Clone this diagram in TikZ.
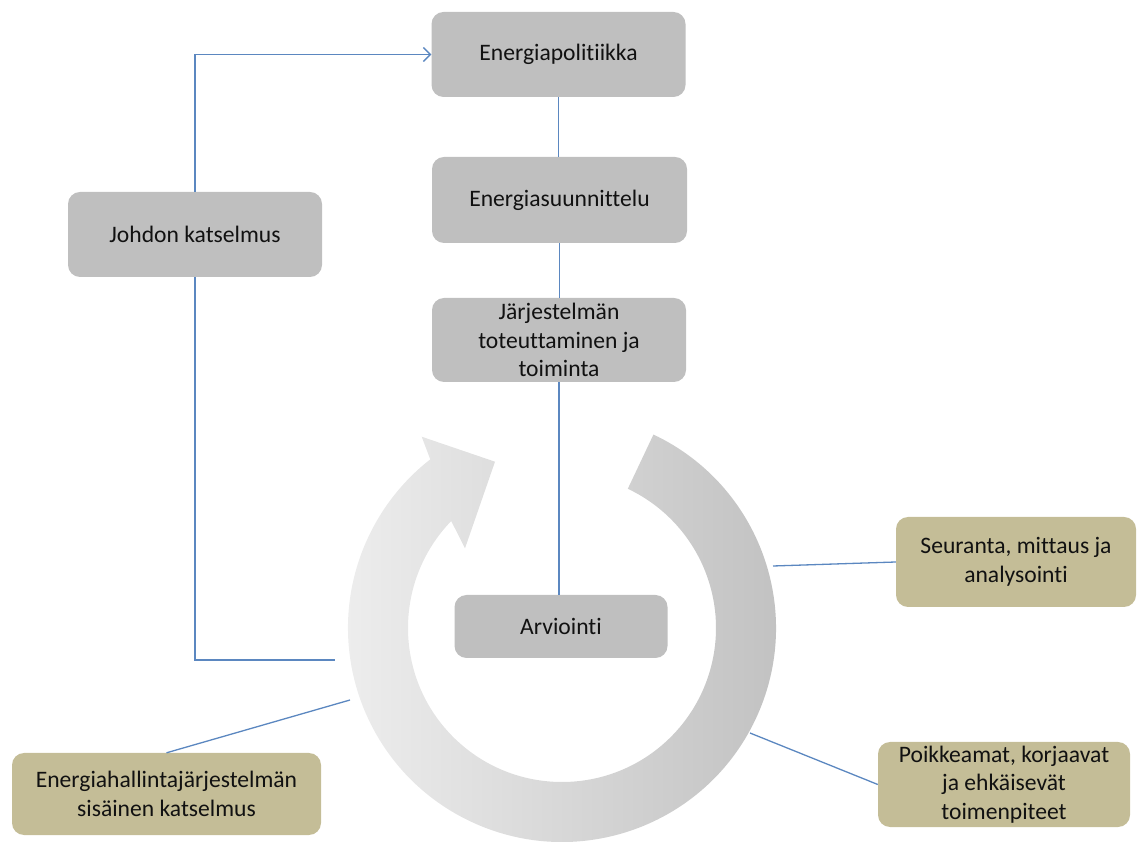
\documentclass[tikz,border=0pt]{standalone}
\usepackage{fontspec}
\setmainfont[Ligatures=NoCommon]{Carlito}
\usepackage{xcolor}
\usepackage{tikz}
\usetikzlibrary{arrows.meta}
\usetikzlibrary{calc,positioning}

\definecolor{boxgray}{HTML}{BFBFBF}
\definecolor{boxtan}{HTML}{C4BD97}
\definecolor{linkblue}{HTML}{5B87C0}
\definecolor{txt}{HTML}{111111}

\begin{document}
\begin{tikzpicture}[x=1pt, y=1pt,
    box/.style={rounded corners=12pt, fill=boxgray, text=txt, align=center,
        font=\fontsize{23.6}{28.5}\selectfont, inner sep=0pt},
    tanbox/.style={box, fill=boxtan},
    link/.style={draw=linkblue, line width=1.3pt}]

    \useasboundingbox (0,0) rectangle (1138,841);

    % Kierto
    \coordinate (ctr) at (562,213);

    % Laatikot
    \node[box, minimum width=254, minimum height=85] (pol) at (558.5,786.5) {Energiapolitiikka};
    \node[box, minimum width=255, minimum height=86] (suun) at (559.5,641) {Energiasuunnittelu};
    \node[box, minimum width=254, minimum height=84] (jarj) at (559,501)
        {Järjestelmän\\toteuttaminen ja\\toiminta};
    \node[box, minimum width=254, minimum height=85] (joh) at (195,606.5) {Johdon katselmus};
    \node[box, minimum width=213, minimum height=63] (arv) at (561,214.5) {Arviointi};

    \node[tanbox, minimum width=240, minimum height=90] (seur) at (1016,279)
        {Seuranta, mittaus ja\\analysointi};
    \node[tanbox, minimum width=252, minimum height=85] (poik) at (1004,56.5)
        {Poikkeamat, korjaavat\\ja ehkäisevät\\toimenpiteet};
    \node[tanbox, minimum width=309, minimum height=82] (ener) at (166.5,47)
        {Energiahallintajärjestelmän\\sisäinen katselmus};

    % Kiinnityspisteet renkaalla
    \coordinate (ringW) at (335,181);
    \coordinate (ringE) at (773,275);
    \coordinate (ringSE) at (750,108);
    \coordinate (ringSW) at (350,141);

    % Yhteydet
    \draw[link, -{Straight Barb[length=7pt, width=14pt]}] (joh.north) |- (pol.west);
    \draw[link] (joh.south) |- (ringW);
    \draw[link] (pol.south) -- (pol.south |- suun.north);
    \draw[link] (suun.south) -- (suun.south |- jarj.north);
    \draw[link] (jarj.south) -- (jarj.south |- arv.north);
    \draw[link] (seur.west) -- (ringE);
    \draw[link] (poik.west) -- (ringSE);
    \draw[link] (ener.north) -- (ringSW);

    % Nuoli
    \shade[left color=black!6, right color=black!25]
        ($(ctr)+(64.7:214)$) arc[start angle=64.7, end angle=-232, radius=214]
        -- (421.7,404.3) -- (495,379.3) -- (465,292.7)
        -- ($(ctr)+(136:154)$) arc[start angle=-224, end angle=64.7, radius=154]
        -- cycle;

\end{tikzpicture}
\end{document}
